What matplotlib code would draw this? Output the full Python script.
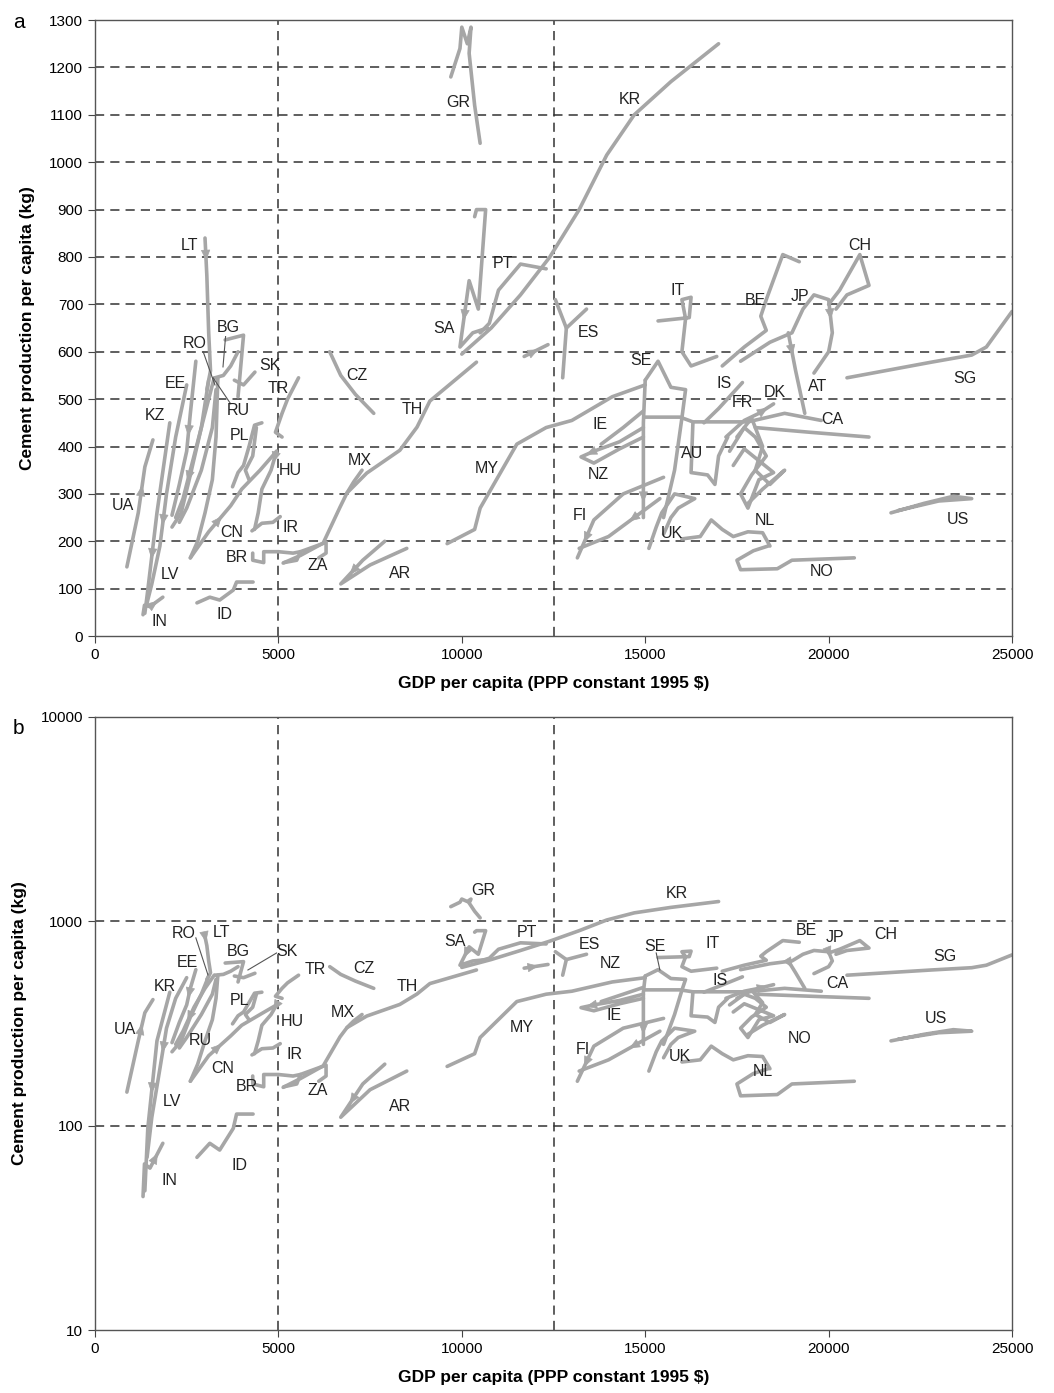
import matplotlib.pyplot as plt

plt.rcParams['font.family'] = ['Liberation Sans', 'DejaVu Sans']

# trajectories: GDP per capita (PPP constant 1995 $), cement per capita (kg)
# read off the figure by eye, so only approximate
UA = ([870, 1180, 1360, 1580], [146, 260, 357, 414])
KZ = ([2040, 1690, 1440, 1360], [450, 260, 97, 48])
IN = ([1310, 1350, 1500, 1850], [45, 65, 62, 82])
LV = ([2500, 2200, 1950, 1770, 1550, 1420], [530, 420, 300, 190, 110, 70])
EE = ([2750, 2600, 2500, 2300, 2100], [580, 470, 390, 320, 255])
LT = ([3000, 3050, 3100, 3150, 3050], [840, 760, 640, 560, 520])
RO = ([3250, 3000, 2700, 2400, 2200], [545, 470, 380, 290, 250])
RU = ([3350, 3300, 3200, 3000, 2800, 2600], [545, 420, 330, 260, 200, 165])
LT_b = ([3100, 2900, 2600, 2350, 2100], [540, 440, 340, 260, 230])
RO_b = ([3300, 3200, 2900, 2500, 2300], [520, 440, 350, 270, 240])
BG = ([3550, 4050, 3900], [625, 635, 505])
BG_b = ([3900, 3700, 3500, 3270], [600, 570, 550, 545])
SK = ([4360, 4050, 3800], [557, 530, 540])
TR = ([5550, 5250, 5100, 4920, 5100], [545, 500, 470, 430, 420])
PL = ([4550, 4350, 4200, 4050, 3900, 3750], [450, 445, 400, 360, 345, 315])
PL_b = ([4400, 4300, 4100, 4200], [440, 380, 350, 330])
HU = ([4950, 4800, 4550, 4450, 4350], [390, 350, 310, 260, 225])
IR = ([4280, 4550, 4850, 5050], [222, 238, 240, 252])
CN = ([2600, 3100, 3700, 4000, 4500, 4950], [165, 220, 275, 310, 350, 390])
BR = ([4300, 4300, 4600, 4600, 5000, 5400, 5600], [175, 160, 155, 178, 178, 175, 178])
ZA = ([5150, 5500, 5600, 6100, 6300, 6300, 6100], [155, 160, 178, 192, 198, 175, 165])
ID = ([2780, 3130, 3400, 3770, 3860, 4310], [70, 82, 76, 97, 114, 114])
CZ = ([6400, 6700, 7100, 7600], [600, 550, 510, 470])
TH = ([5130, 5600, 6220, 6680, 6870, 7410, 8310, 8780, 9130, 10400],
      [154, 170, 196, 272, 302, 344, 392, 441, 496, 578])
MX = ([6870, 7050, 7280], [302, 325, 350])
AR = ([7900, 7300, 6700, 7500, 8500], [200, 160, 110, 150, 185])
GR = ([9700, 9950, 10000, 10150, 10250, 10200, 10350, 10500],
      [1180, 1240, 1285, 1250, 1285, 1230, 1120, 1040])
SA = ([10350, 10400, 10650, 10450, 10200, 9950, 10300, 10700],
      [885, 900, 900, 690, 750, 610, 640, 650])
PT = ([10500, 10750, 11000, 11600, 12300], [640, 660, 730, 785, 775])
KR = ([10000, 10800, 11600, 12400, 13200, 13950, 14700, 15700, 17000],
      [595, 650, 720, 800, 900, 1015, 1100, 1170, 1250])
ES = ([12750, 12850, 12550], [545, 650, 710])
ES_b = ([12850, 13400], [650, 690])
ES_c = ([11700, 12350], [590, 615])
MY = ([9600, 10350, 10500, 11500, 12300, 13000, 14100, 15000],
      [195, 225, 270, 405, 440, 455, 505, 530])
SE = ([15000, 15350, 15700, 16100, 16000, 15800, 15500],
      [540, 580, 525, 520, 460, 350, 250])
SE_b = ([15000, 14950, 14950, 14950], [540, 450, 330, 250])
SE_c = ([15000, 15950, 16300, 17800], [462, 462, 452, 452])
IE = ([13800, 14400, 14950], [405, 440, 475])
NZ = ([14950, 14300, 13600, 13250, 13600, 14300, 14950], [440, 410, 390, 378, 365, 395, 420])
FI = ([15500, 14400, 13600, 13150], [335, 300, 245, 165])
FI_b = ([15400, 14000, 13200], [290, 210, 185])
UK = ([15100, 15300, 15450, 15800, 16350, 15900, 15700, 15500],
      [185, 230, 260, 300, 290, 270, 250, 215])
NL = ([16000, 16500, 16800, 17100, 17400, 17800, 18200, 18400],
      [205, 210, 245, 225, 210, 220, 218, 190])
NO = ([18350, 17950, 17500, 17600, 18600, 19000, 20700], [190, 180, 160, 140, 142, 160, 165])
US = ([21700, 22600, 23400, 23900, 23000, 21900], [260, 280, 295, 290, 285, 265])
SG = ([20500, 22800, 23900, 24300, 25000], [545, 578, 593, 610, 685])
CH = ([20200, 20500, 21100, 20850, 20300, 20000], [690, 720, 740, 805, 730, 700])
JP = ([17600, 18400, 19000, 19300, 19600, 20000, 20100, 20000, 19600],
      [580, 620, 640, 690, 720, 710, 640, 600, 555])
BE = ([17100, 17700, 18300, 18150, 18300, 18750, 19200], [570, 610, 645, 675, 710, 805, 790])
AT = ([18900, 19100, 19350], [640, 560, 470])
IT = ([15350, 16200, 16250, 16000, 16100, 16000, 16250, 16950],
      [665, 672, 715, 710, 670, 600, 570, 590])
IS = ([16600, 17000, 17650], [450, 480, 535])
DK = ([17200, 17700, 18100, 18500], [420, 455, 470, 490])
AU = ([16300, 16250, 16700, 16900, 17000, 17250], [450, 345, 340, 320, 380, 420])
FR = ([17300, 17700, 18000, 18300, 17900, 17600, 17800, 18100, 18500, 17700, 17400],
      [390, 440, 420, 380, 340, 300, 270, 330, 345, 395, 360])
FR_b = ([17500, 17900, 18200, 18000, 18400, 18800, 18200, 17800],
        [420, 460, 400, 350, 320, 350, 310, 280])
CA = ([17800, 18800, 19800], [452, 470, 455])
CA_b = ([18000, 19500, 21100], [440, 430, 420])

tracks = [UA, KZ, IN, LV, EE, LT, RO, RU, LT_b, RO_b, BG, BG_b, SK, TR, PL, PL_b,
          HU, IR, CN, BR, ZA, ID, CZ, TH, MX, AR, GR, SA, PT, KR, ES, ES_b, ES_c,
          MY, SE, SE_b, SE_c, IE, NZ, FI, FI_b, UK, NL, NO, US, SG, CH, JP, BE,
          AT, IT, IS, DK, AU, FR, FR_b, CA, CA_b]

# arrowheads: (track, segment index) -> head points along the track order
arrows = [(LT, 0), (EE, 1), (KZ, 1), (LV, 2), (RO, 2), (UA, 1), (CN, 1), (SE_b, 2),
          (JP, 5), (AT, 0), (FI, 2), (FI_b, 0), (ES_c, 0), (AR, 1), (SA, 4),
          (HU, 0), (IN, 2), (DK, 2), (NZ, 2)]

# label positions, panel a (linear)
labels_a = {
    'LT': (2590, 825), 'RO': (2730, 618), 'BG': (3630, 652), 'EE': (2180, 534),
    'SK': (4770, 572), 'TR': (4990, 523), 'RU': (3900, 475), 'KZ': (1640, 466),
    'PL': (3950, 424), 'CZ': (7140, 549), 'TH': (8640, 479), 'UA': (760, 276),
    'HU': (5320, 350), 'MX': (7220, 371), 'CN': (3730, 219), 'IR': (5320, 230),
    'BR': (3870, 165), 'ZA': (6080, 148), 'AR': (8310, 133), 'LV': (2040, 129),
    'ID': (3540, 46), 'IN': (1770, 30), 'GR': (9900, 1127), 'KR': (14580, 1133),
    'PT': (11120, 787), 'SA': (9510, 650), 'ES': (13440, 641), 'MY': (10690, 354),
    'IT': (15890, 730), 'SE': (14880, 582), 'IE': (13770, 447), 'NZ': (13710, 340),
    'FI': (13220, 255), 'UK': (15730, 217), 'NL': (18260, 243), 'NO': (19820, 137),
    'BE': (17990, 709), 'JP': (19220, 717), 'CH': (20850, 825), 'AT': (19710, 527),
    'IS': (17150, 534), 'FR': (17660, 492), 'DK': (18540, 513), 'CA': (20090, 458),
    'AU': (16270, 386), 'SG': (23720, 544), 'US': (23530, 247),
}

# label positions, panel b (log)
labels_b = {
    'UA': (820, 294), 'KR': (1910, 478), 'LV': (2100, 132), 'IN': (2040, 54),
    'RO': (2430, 867), 'LT': (3460, 877), 'EE': (2510, 632), 'BG': (3900, 708),
    'SK': (5230, 708), 'TR': (6000, 578), 'RU': (2860, 262), 'PL': (3950, 408),
    'HU': (5370, 325), 'CN': (3490, 191), 'BR': (4140, 155), 'IR': (5450, 222),
    'ZA': (6080, 148), 'ID': (3950, 64), 'CZ': (7330, 591), 'MX': (6760, 356),
    'TH': (8510, 478), 'AR': (8310, 124), 'GR': (10580, 1410), 'SA': (9810, 793),
    'PT': (11780, 877), 'KR ': (15870, 1362), 'MY': (11640, 301), 'ES': (13470, 766),
    'SE': (15270, 749), 'NZ': (14040, 625), 'IT': (16850, 783), 'IE': (14150, 348),
    'FI': (13300, 235), 'UK': (15950, 219), 'NL': (18210, 185), 'NO': (19220, 266),
    'IS': (17040, 516), 'BE': (19380, 897), 'JP': (20170, 829), 'CH': (21560, 858),
    'CA': (20230, 499), 'SG': (23170, 670), 'US': (22930, 333),
}

leaders_a = [((2950, 600), (3270, 530)), ((3700, 490), (3220, 545)), ((3560, 632), (3490, 568))]
leaders_b = [((2750, 830), (3080, 547)), ((4950, 700), (4170, 578)), ((15300, 700), (15400, 578))]

line_col = '#a6a6a6'
grid_col = '#333333'

fig = plt.figure(figsize=(10.54, 13.93), dpi=100)
ax_a = fig.add_axes([0.0901, 0.5434, 0.8701, 0.4422])
ax_b = fig.add_axes([0.0901, 0.0452, 0.8701, 0.4401])


def seg_point(y0, y1, t, logy):
    if logy:
        return y0 ** (1 - t) * y1 ** t
    return y0 + (y1 - y0) * t


def draw(ax, labels, leaders, logy):
    for gdp, cem in tracks:
        ax.plot(gdp, cem, color=line_col, lw=2.6, solid_joinstyle='round',
                solid_capstyle='round', zorder=2)
    for (gdp, cem), i in arrows:
        x0, x1, y0, y1 = gdp[i], gdp[i + 1], cem[i], cem[i + 1]
        tail = (x0 + (x1 - x0) * 0.35, seg_point(y0, y1, 0.35, logy))
        head = (x0 + (x1 - x0) * 0.6, seg_point(y0, y1, 0.6, logy))
        ax.annotate('', xy=head, xytext=tail, zorder=2,
                    arrowprops=dict(arrowstyle='-|>,head_length=0.7,head_width=0.3',
                                    color=line_col, lw=0.5, shrinkA=0, shrinkB=0))
    for name, (x, y) in labels.items():
        ax.text(x, y, name.strip(), fontsize=11.5, ha='center', va='center',
                color='#222222', zorder=4)
    for (x0, y0), (x1, y1) in leaders:
        ax.plot([x0, x1], [y0, y1], color='#555555', lw=0.8, zorder=3)
    for xv in (5000, 12500):
        ax.axvline(xv, color=grid_col, lw=1.1, ls=(0, (6, 4)), zorder=1)
    ax.set_xlim(0, 25000)
    ax.set_xticks(range(0, 25001, 5000))
    ax.set_xticklabels([str(v) for v in range(0, 25001, 5000)])
    ax.set_xlabel('GDP per capita (PPP constant 1995 $)', fontsize=12.5,
                  fontweight='bold', labelpad=10)
    ax.set_ylabel('Cement production per capita (kg)', fontsize=12.5,
                  fontweight='bold', labelpad=10)
    ax.tick_params(labelsize=11, direction='out', length=5, color='#444444')
    for sp in ax.spines.values():
        sp.set_color('#555555')
        sp.set_linewidth(1.0)


ax_a.set_ylim(0, 1300)
ax_b.set_yscale('log')
ax_b.set_ylim(10, 10000)

draw(ax_a, labels_a, leaders_a, False)
ax_a.set_yticks(range(0, 1301, 100))
for yv in range(100, 1300, 100):
    ax_a.axhline(yv, color=grid_col, lw=1.1, ls=(0, (6, 4)), zorder=1)

draw(ax_b, labels_b, leaders_b, True)
ax_b.set_yticks([10, 100, 1000, 10000])
ax_b.set_yticklabels(['10', '100', '1000', '10000'])
ax_b.minorticks_off()
for yv in (100, 1000):
    ax_b.axhline(yv, color=grid_col, lw=1.1, ls=(0, (6, 4)), zorder=1)

fig.text(0.012, 0.991, 'a', fontsize=15, va='top')
fig.text(0.012, 0.484, 'b', fontsize=15, va='top')

fig.savefig('out.png', dpi=100)
